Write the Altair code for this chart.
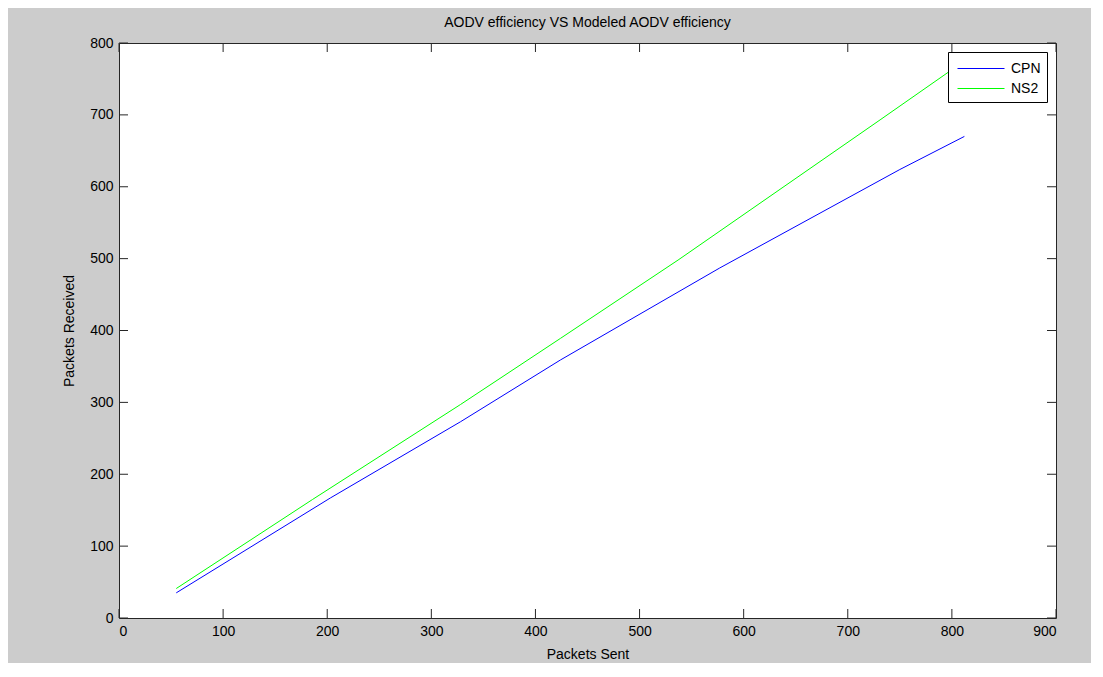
import altair as alt
import pandas as pd

# ---- data ----
cpn_sent = [55, 203, 328, 424, 577, 750, 812]
cpn_recv = [35, 167, 273, 359, 487, 624, 670]
ns2_sent = [55, 186, 328, 424, 537, 731, 812]
ns2_recv = [41, 165, 297, 389, 498, 693, 775]

series_names = ["CPN", "NS2"]
series_colors = ["#0000ff", "#00ff00"]

x_ticks = [0, 100, 200, 300, 400, 500, 600, 700, 800, 900]
y_ticks = [0, 100, 200, 300, 400, 500, 600, 700, 800]

W, H = 937, 575
TICK = 9
FONT = "Liberation Sans"

df = pd.concat([
    pd.DataFrame({"sent": cpn_sent, "recv": cpn_recv, "series": "CPN", "order": range(len(cpn_sent))}),
    pd.DataFrame({"sent": ns2_sent, "recv": ns2_recv, "series": "NS2", "order": range(len(ns2_sent))}),
])
xt = pd.DataFrame({"v": x_ticks})
yt = pd.DataFrame({"v": y_ticks})

xscale = alt.Scale(domain=[0, 900], nice=False, zero=False)
yscale = alt.Scale(domain=[0, 800], nice=False, zero=False)

xaxis = alt.Axis(values=x_ticks, format="d", grid=False, domain=False, ticks=False,
                 tickSize=0, labelPadding=6, titlePadding=9)
yaxis = alt.Axis(values=y_ticks, format="d", grid=False, domain=False, ticks=False,
                 tickSize=0, labelPadding=6, titlePadding=13)

lines = alt.Chart(df).mark_line(strokeWidth=1).encode(
    x=alt.X("sent:Q", scale=xscale, title="Packets Sent", axis=xaxis),
    y=alt.Y("recv:Q", scale=yscale, title="Packets Received", axis=yaxis),
    stroke=alt.Stroke("series:N",
                      scale=alt.Scale(domain=series_names, range=series_colors),
                      legend=alt.Legend(title=None, orient="none", legendX=829, legendY=9,
                                        fillColor="white", strokeColor="#000000",
                                        padding=6,
                                        symbolType="M-0.7,0H4.0",
                                        symbolSize=400, symbolStrokeWidth=1,
                                        labelOffset=36,
                                        labelFontSize=14, labelFont=FONT, labelColor="#000000",
                                        rowPadding=2)),
    order="order:Q",
)

tick_color = "#262626"
bottom_ticks = alt.Chart(xt).mark_rule(color=tick_color, strokeWidth=1).encode(
    x=alt.X("v:Q", scale=xscale, title="Packets Sent", axis=xaxis),
    y=alt.value(H), y2=alt.value(H - TICK))
top_ticks = alt.Chart(xt).mark_rule(color=tick_color, strokeWidth=1).encode(
    x=alt.X("v:Q", scale=xscale, title="Packets Sent", axis=xaxis),
    y=alt.value(0), y2=alt.value(TICK))
left_ticks = alt.Chart(yt).mark_rule(color=tick_color, strokeWidth=1).encode(
    y=alt.Y("v:Q", scale=yscale, title="Packets Received", axis=yaxis),
    x=alt.value(0), x2=alt.value(TICK))
right_ticks = alt.Chart(yt).mark_rule(color=tick_color, strokeWidth=1).encode(
    y=alt.Y("v:Q", scale=yscale, title="Packets Received", axis=yaxis),
    x=alt.value(W), x2=alt.value(W - TICK))

chart = alt.layer(lines, bottom_ticks, top_ticks, left_ticks, right_ticks).properties(
    width=W, height=H,
    title=alt.TitleParams("AODV efficiency VS Modeled AODV efficiency", fontSize=14,
                          font=FONT, fontWeight="normal", color="#000000", offset=6),
    autosize=alt.AutoSizeParams(type="none"),
    padding={"left": 111, "top": 35, "right": 35, "bottom": 45},
).configure(
    background="#cccccc",
).configure_view(
    fill="white", stroke="#262626", strokeWidth=1,
).configure_axis(
    labelFont=FONT, labelFontSize=14, labelColor="#000000",
    titleFont=FONT, titleFontSize=14, titleFontWeight="normal", titleColor="#000000",
)

chart.save("out.html", embed_options={"renderer": "svg", "actions": False})
